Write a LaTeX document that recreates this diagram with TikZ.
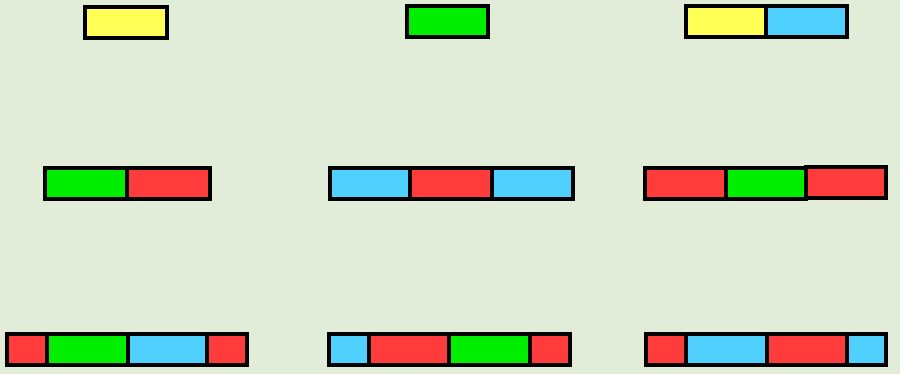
\documentclass[tikz,border=0pt]{standalone}
\usepackage{tikz}
\usetikzlibrary{positioning}
\usepackage{xcolor}
\definecolor{paleground}{HTML}{E1EDD9}
\definecolor{tileyellow}{HTML}{FFFF55}
\definecolor{tilegreen}{HTML}{00EE00}
\definecolor{tilered}{HTML}{FF3B3B}
\definecolor{tileblue}{HTML}{4FD0FF}
\newcommand{\pxlen}{0.025cm}
\tikzset{
  tile/.style={draw=black,line width=2.2pt,anchor=north west,inner sep=0pt,
    outer sep=0pt,minimum height=31*\pxlen},
}
% one tile: name, left, top, width, colour
\newcommand{\tileat}[5]{%
  \node[tile,fill=#5,minimum width=#4*\pxlen] (#1) at (#2,#3) {};
}

\begin{document}
\begin{tikzpicture}[x=0.025cm,y=-0.025cm]
  \fill[paleground] (0,0) rectangle (900,374);
  \useasboundingbox (0,0) rectangle (900,374);
  % top row
  \tileat{ay}{85}{7}{82}{tileyellow}
  \tileat{bg}{407}{6}{81}{tilegreen}
  \tileat{cy}{686}{6}{80}{tileyellow}
  \tileat{cb}{766}{6}{81}{tileblue}
  % middle row
  \tileat{dg}{45}{168}{82}{tilegreen}
  \tileat{dr}{127}{168}{83}{tilered}
  \tileat{eb}{330}{168}{80}{tileblue}
  \tileat{er}{410}{168}{82}{tilered}
  \tileat{ec}{492}{168}{81}{tileblue}
  \tileat{fr}{645}{168}{81}{tilered}
  \tileat{fg}{726}{168}{80}{tilegreen}
  \tileat{fs}{806}{167}{80}{tilered}
  % bottom row
  \tileat{gr}{7}{334}{40}{tilered}
  \tileat{gg}{47}{334}{81}{tilegreen}
  \tileat{gb}{128}{334}{79}{tileblue}
  \tileat{gs}{207}{334}{40}{tilered}
  \tileat{hb}{329}{334}{40}{tileblue}
  \tileat{hr}{369}{334}{80}{tilered}
  \tileat{hg}{449}{334}{81}{tilegreen}
  \tileat{hs}{530}{334}{40}{tilered}
  \tileat{kr}{646}{334}{40}{tilered}
  \tileat{kb}{686}{334}{81}{tileblue}
  \tileat{ks}{767}{334}{80}{tilered}
  \tileat{kc}{847}{334}{39}{tileblue}
\end{tikzpicture}
\end{document}
